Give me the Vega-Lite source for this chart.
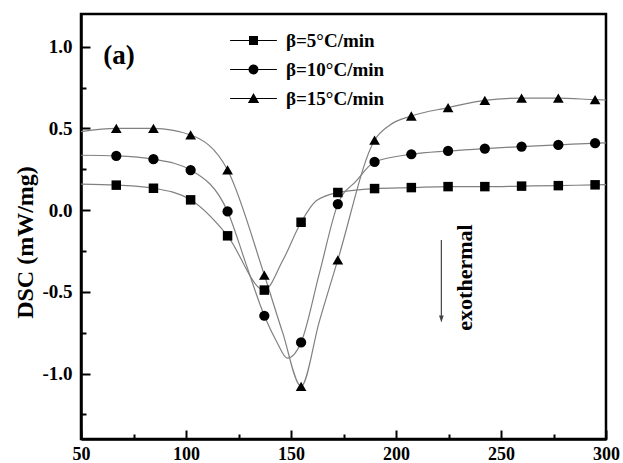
{
  "$schema": "https://vega.github.io/schema/vega-lite/v6.json",
  "width": 525,
  "height": 425,
  "autosize": {"type": "none"},
  "padding": {"left": 81, "top": 14, "right": 17, "bottom": 24},
  "background": "white",
  "config": {
    "view": {"stroke": "black", "strokeWidth": 2.5},
    "font": "Liberation Serif"
  },
  "datasets": {
    "curve": [
      {"series": "β=5°C/min", "T": 50, "DSC": 0.159},
      {"series": "β=5°C/min", "T": 66.8, "DSC": 0.153},
      {"series": "β=5°C/min", "T": 84.5, "DSC": 0.134},
      {"series": "β=5°C/min", "T": 102.2, "DSC": 0.063},
      {"series": "β=5°C/min", "T": 119.8, "DSC": -0.157},
      {"series": "β=5°C/min", "T": 137.3, "DSC": -0.489},
      {"series": "β=5°C/min", "T": 146, "DSC": -0.31},
      {"series": "β=5°C/min", "T": 154.8, "DSC": -0.074},
      {"series": "β=5°C/min", "T": 162, "DSC": 0.057},
      {"series": "β=5°C/min", "T": 172.3, "DSC": 0.108},
      {"series": "β=5°C/min", "T": 189.8, "DSC": 0.132},
      {"series": "β=5°C/min", "T": 207.3, "DSC": 0.138},
      {"series": "β=5°C/min", "T": 224.8, "DSC": 0.144},
      {"series": "β=5°C/min", "T": 242.3, "DSC": 0.144},
      {"series": "β=5°C/min", "T": 259.8, "DSC": 0.147},
      {"series": "β=5°C/min", "T": 277.3, "DSC": 0.15},
      {"series": "β=5°C/min", "T": 294.8, "DSC": 0.155},
      {"series": "β=5°C/min", "T": 300, "DSC": 0.156},
      {"series": "β=10°C/min", "T": 50, "DSC": 0.336},
      {"series": "β=10°C/min", "T": 66.8, "DSC": 0.332},
      {"series": "β=10°C/min", "T": 84.5, "DSC": 0.312},
      {"series": "β=10°C/min", "T": 102.2, "DSC": 0.245},
      {"series": "β=10°C/min", "T": 119.8, "DSC": -0.008},
      {"series": "β=10°C/min", "T": 128.6, "DSC": -0.33},
      {"series": "β=10°C/min", "T": 137.3, "DSC": -0.646},
      {"series": "β=10°C/min", "T": 143, "DSC": -0.8},
      {"series": "β=10°C/min", "T": 148.3, "DSC": -0.905},
      {"series": "β=10°C/min", "T": 154.8, "DSC": -0.809},
      {"series": "β=10°C/min", "T": 163.5, "DSC": -0.387},
      {"series": "β=10°C/min", "T": 172.3, "DSC": 0.037},
      {"series": "β=10°C/min", "T": 181.1, "DSC": 0.179},
      {"series": "β=10°C/min", "T": 189.8, "DSC": 0.295},
      {"series": "β=10°C/min", "T": 207.3, "DSC": 0.342},
      {"series": "β=10°C/min", "T": 224.8, "DSC": 0.362},
      {"series": "β=10°C/min", "T": 242.3, "DSC": 0.377},
      {"series": "β=10°C/min", "T": 259.8, "DSC": 0.389},
      {"series": "β=10°C/min", "T": 277.3, "DSC": 0.399},
      {"series": "β=10°C/min", "T": 294.8, "DSC": 0.41},
      {"series": "β=10°C/min", "T": 300, "DSC": 0.412},
      {"series": "β=15°C/min", "T": 50, "DSC": 0.48},
      {"series": "β=15°C/min", "T": 66.8, "DSC": 0.5},
      {"series": "β=15°C/min", "T": 84.5, "DSC": 0.5},
      {"series": "β=15°C/min", "T": 102.2, "DSC": 0.46},
      {"series": "β=15°C/min", "T": 119.8, "DSC": 0.246},
      {"series": "β=15°C/min", "T": 137.3, "DSC": -0.397},
      {"series": "β=15°C/min", "T": 146, "DSC": -0.748},
      {"series": "β=15°C/min", "T": 154.8, "DSC": -1.078},
      {"series": "β=15°C/min", "T": 163.5, "DSC": -0.68},
      {"series": "β=15°C/min", "T": 172.3, "DSC": -0.304},
      {"series": "β=15°C/min", "T": 189.8, "DSC": 0.428},
      {"series": "β=15°C/min", "T": 197, "DSC": 0.52},
      {"series": "β=15°C/min", "T": 207.3, "DSC": 0.576},
      {"series": "β=15°C/min", "T": 224.8, "DSC": 0.627},
      {"series": "β=15°C/min", "T": 242.3, "DSC": 0.672},
      {"series": "β=15°C/min", "T": 259.8, "DSC": 0.685},
      {"series": "β=15°C/min", "T": 277.3, "DSC": 0.685},
      {"series": "β=15°C/min", "T": 294.8, "DSC": 0.676},
      {"series": "β=15°C/min", "T": 300, "DSC": 0.674}
    ],
    "markers": [
      {"series": "β=5°C/min", "T": 66.8, "DSC": 0.153},
      {"series": "β=5°C/min", "T": 84.5, "DSC": 0.134},
      {"series": "β=5°C/min", "T": 102.2, "DSC": 0.063},
      {"series": "β=5°C/min", "T": 119.8, "DSC": -0.157},
      {"series": "β=5°C/min", "T": 137.3, "DSC": -0.489},
      {"series": "β=5°C/min", "T": 154.8, "DSC": -0.074},
      {"series": "β=5°C/min", "T": 172.3, "DSC": 0.108},
      {"series": "β=5°C/min", "T": 189.8, "DSC": 0.132},
      {"series": "β=5°C/min", "T": 207.3, "DSC": 0.138},
      {"series": "β=5°C/min", "T": 224.8, "DSC": 0.144},
      {"series": "β=5°C/min", "T": 242.3, "DSC": 0.144},
      {"series": "β=5°C/min", "T": 259.8, "DSC": 0.147},
      {"series": "β=5°C/min", "T": 277.3, "DSC": 0.15},
      {"series": "β=5°C/min", "T": 294.8, "DSC": 0.155},
      {"series": "β=10°C/min", "T": 66.8, "DSC": 0.332},
      {"series": "β=10°C/min", "T": 84.5, "DSC": 0.312},
      {"series": "β=10°C/min", "T": 102.2, "DSC": 0.245},
      {"series": "β=10°C/min", "T": 119.8, "DSC": -0.008},
      {"series": "β=10°C/min", "T": 137.3, "DSC": -0.646},
      {"series": "β=10°C/min", "T": 154.8, "DSC": -0.809},
      {"series": "β=10°C/min", "T": 172.3, "DSC": 0.037},
      {"series": "β=10°C/min", "T": 189.8, "DSC": 0.295},
      {"series": "β=10°C/min", "T": 207.3, "DSC": 0.342},
      {"series": "β=10°C/min", "T": 224.8, "DSC": 0.362},
      {"series": "β=10°C/min", "T": 242.3, "DSC": 0.377},
      {"series": "β=10°C/min", "T": 259.8, "DSC": 0.389},
      {"series": "β=10°C/min", "T": 277.3, "DSC": 0.399},
      {"series": "β=10°C/min", "T": 294.8, "DSC": 0.41},
      {"series": "β=15°C/min", "T": 66.8, "DSC": 0.5},
      {"series": "β=15°C/min", "T": 84.5, "DSC": 0.5},
      {"series": "β=15°C/min", "T": 102.2, "DSC": 0.46},
      {"series": "β=15°C/min", "T": 119.8, "DSC": 0.246},
      {"series": "β=15°C/min", "T": 137.3, "DSC": -0.397},
      {"series": "β=15°C/min", "T": 154.8, "DSC": -1.078},
      {"series": "β=15°C/min", "T": 172.3, "DSC": -0.304},
      {"series": "β=15°C/min", "T": 189.8, "DSC": 0.428},
      {"series": "β=15°C/min", "T": 207.3, "DSC": 0.576},
      {"series": "β=15°C/min", "T": 224.8, "DSC": 0.627},
      {"series": "β=15°C/min", "T": 242.3, "DSC": 0.672},
      {"series": "β=15°C/min", "T": 259.8, "DSC": 0.685},
      {"series": "β=15°C/min", "T": 277.3, "DSC": 0.685},
      {"series": "β=15°C/min", "T": 294.8, "DSC": 0.676}
    ],
    "arrow": [{"T": 221.6, "DSC": -0.182, "DSC2": -0.66, "tip": -0.687}],
    "panel": [{"T": 68.1, "DSC": 0.943, "text": "(a)"}],
    "note": [{"T": 232.7, "DSC": -0.412, "text": "exothermal"}]
  },
  "encoding": {
    "x": {
      "field": "T",
      "type": "quantitative",
      "scale": {"domain": [50, 300], "nice": false, "zero": false},
      "axis": {
        "title": null,
        "grid": false,
        "values": [50, 75, 100, 125, 150, 175, 200, 225, 250, 275, 300],
        "labelExpr": "datum.value % 50 === 0 ? datum.label : ''",
        "tickSize": {"condition": {"test": "datum.value % 50 !== 0", "value": -5}, "value": -9},
        "tickWidth": 2,
        "tickColor": "black",
        "domainColor": "black",
        "domainWidth": 2.5,
        "labelFont": "Liberation Serif",
        "labelFontWeight": "bold",
        "labelFontSize": 18,
        "labelColor": "black",
        "labelPadding": 15,
        "labelFlush": false,
        "labelOverlap": false,
        "labelBound": false
      }
    },
    "y": {
      "field": "DSC",
      "type": "quantitative",
      "scale": {"domain": [-1.4, 1.2], "nice": false, "zero": false},
      "axis": {
        "grid": false,
        "values": [-1.25, -1, -0.75, -0.5, -0.25, 0, 0.25, 0.5, 0.75, 1],
        "labelExpr": "abs(datum.value * 2 - round(datum.value * 2)) < 0.01 ? replace(format(datum.value, '.1f'), '\u2212', '-') : ''",
        "tickSize": {"condition": {"test": "abs(datum.value * 2 - round(datum.value * 2)) > 0.01", "value": -5}, "value": -9},
        "tickWidth": 2,
        "tickColor": "black",
        "domainColor": "black",
        "domainWidth": 2.5,
        "labelFont": "Liberation Serif",
        "labelFontWeight": "bold",
        "labelFontSize": 19,
        "labelColor": "black",
        "labelPadding": 18,
        "labelFlush": false,
        "labelOverlap": false,
        "labelBound": false,
        "title": "DSC (mW/mg)",
        "titleFont": "Liberation Serif",
        "titleFontSize": 24,
        "titleFontWeight": "bold",
        "titleColor": "black",
        "titleAngle": 270,
        "titleAlign": "center",
        "titleBaseline": "alphabetic",
        "titleX": -49,
        "titleY": 228
      }
    }
  },
  "layer": [
    {
      "data": {"name": "curve"},
      "mark": {"type": "line", "interpolate": "monotone", "stroke": "#808080", "strokeWidth": 1.2},
      "encoding": {"detail": {"field": "series"}}
    },
    {
      "data": {"name": "markers"},
      "transform": [{"filter": "datum.series === 'β=5°C/min'"}],
      "mark": {"type": "point", "filled": true, "color": "black", "opacity": 1, "size": 90, "shape": "square"}
    },
    {
      "data": {"name": "markers"},
      "transform": [{"filter": "datum.series === 'β=10°C/min'"}],
      "mark": {"type": "point", "filled": true, "color": "black", "opacity": 1, "size": 105, "shape": "circle"}
    },
    {
      "data": {"name": "markers"},
      "transform": [{"filter": "datum.series === 'β=15°C/min'"}],
      "mark": {"type": "point", "filled": true, "color": "black", "opacity": 1, "size": 115, "shape": "triangle-up"}
    },
    {
      "data": {"name": "markers"},
      "transform": [{"filter": "false"}],
      "mark": {"type": "point", "filled": true, "color": "black", "opacity": 1, "size": 81},
      "encoding": {
        "shape": {
          "field": "series",
          "type": "nominal",
          "scale": {
            "domain": ["β=5°C/min", "β=10°C/min", "β=15°C/min"],
            "range": [
              "M-5.2,-0.12H5.2V0.12H-5.2ZM-1,-1H1V1H-1Z",
              "M-5.2,-0.12H5.2V0.12H-5.2ZM1.1,0A1.1,1.1,0,1,1,-1.1,0A1.1,1.1,0,1,1,1.1,0Z",
              "M-5.2,-0.12H5.2V0.12H-5.2ZM0,-1.25L1.25,1L-1.25,1Z"
            ]
          },
          "legend": {
            "title": null,
            "orient": "none",
            "legendX": 163,
            "legendY": 17,
            "padding": 0,
            "labelFont": "Liberation Serif",
            "labelFontSize": 19,
            "labelFontWeight": "bold",
            "labelColor": "black",
            "labelOffset": 23,
            "symbolSize": 81,
            "symbolOpacity": 1,
            "symbolFillColor": "black",
            "rowPadding": 9
          }
        }
      }
    },
    {
      "data": {"name": "arrow"},
      "mark": {"type": "rule", "color": "#444444", "strokeWidth": 1.2},
      "encoding": {"y2": {"field": "DSC2"}}
    },
    {
      "data": {"name": "arrow"},
      "mark": {"type": "point", "filled": true, "color": "#444444", "opacity": 1, "size": 49, "shape": "M-0.67,-2L0.67,-2L0,0Z"},
      "encoding": {"y": {"field": "tip", "type": "quantitative"}}
    },
    {
      "data": {"name": "panel"},
      "mark": {"type": "text", "font": "Liberation Serif", "fontSize": 27, "fontWeight": "bold", "color": "black", "align": "center", "baseline": "middle"},
      "encoding": {"text": {"field": "text"}}
    },
    {
      "data": {"name": "note"},
      "mark": {"type": "text", "font": "Liberation Serif", "fontSize": 22, "fontWeight": "bold", "color": "black", "align": "center", "baseline": "middle", "angle": 270},
      "encoding": {"text": {"field": "text"}}
    }
  ]
}
